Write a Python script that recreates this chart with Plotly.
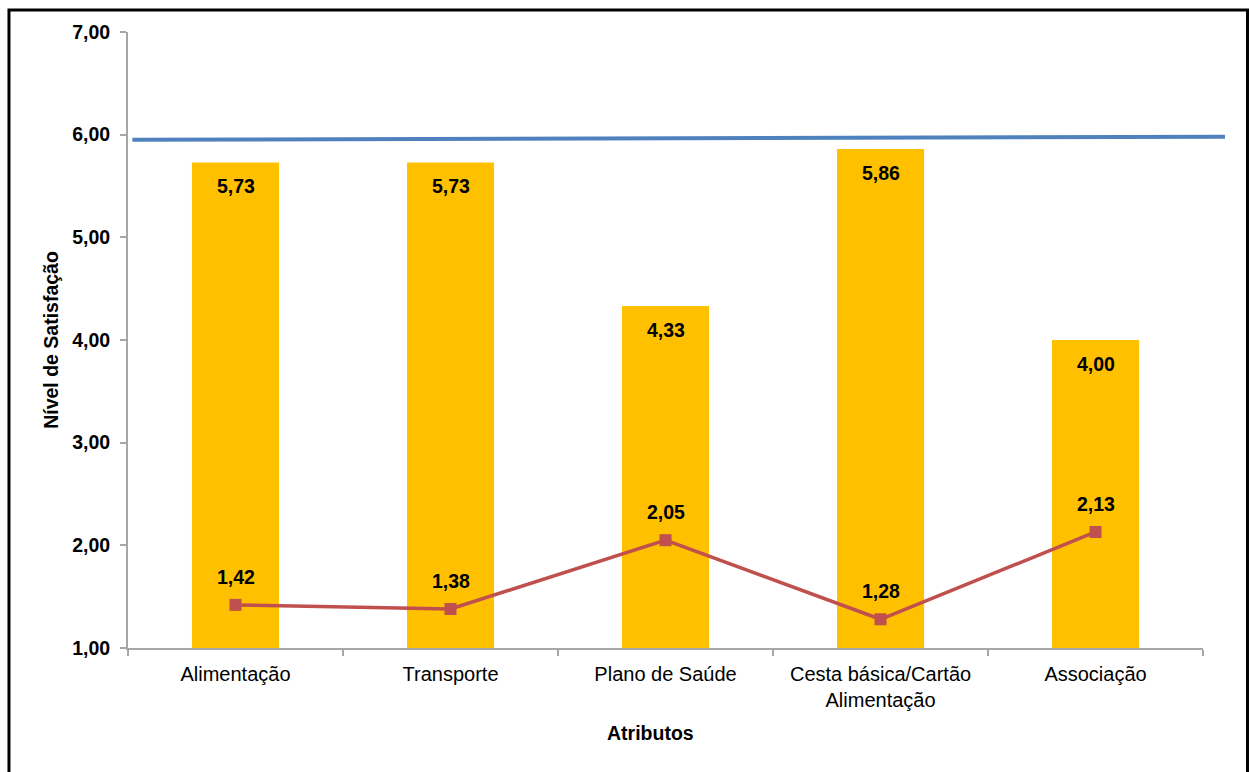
import plotly.graph_objects as go

# Attribute categories and satisfaction scores
categories = ["Alimentação", "Transporte", "Plano de Saúde",
              "Cesta básica/Cartão<br>Alimentação", "Associação"]
satisfaction = [5.73, 5.73, 4.33, 5.86, 4.00]
deviation = [1.42, 1.38, 2.05, 1.28, 2.13]

# Reference level line (drawn on its own full-width axis)
reference_x = [0.004, 1.0]
reference_y = [5.95, 5.98]

y_ticks = [1, 2, 3, 4, 5, 6, 7]
y_tick_labels = ["1,00", "2,00", "3,00", "4,00", "5,00", "6,00", "7,00"]


def fmt(v):
    return f"{v:.2f}".replace(".", ",")


FONT = "Liberation Sans, Arial, sans-serif"
AXIS_GRAY = "#A6A6A6"
BOLD = dict(family=FONT, size=19.5, color="black", weight="bold")

fig = go.Figure()

fig.add_trace(go.Bar(
    x=categories, y=satisfaction, base=0,
    marker=dict(color="#FFC000", line=dict(width=0)),
    width=0.405, xaxis="x", yaxis="y", showlegend=False, hoverinfo="skip",
))

fig.add_trace(go.Scatter(
    x=categories, y=deviation, mode="lines+markers",
    line=dict(color="#C0504D", width=3.5),
    marker=dict(symbol="square", size=12, color="#C0504D"),
    xaxis="x", yaxis="y", showlegend=False, hoverinfo="skip",
))

fig.add_trace(go.Scatter(
    x=reference_x, y=reference_y, mode="lines",
    line=dict(color="#4F81BD", width=4),
    xaxis="x2", yaxis="y", showlegend=False, hoverinfo="skip",
))

annotations = []
for c, v in zip(categories, satisfaction):
    annotations.append(dict(
        x=c, y=v, xref="x", yref="y", text=fmt(v), showarrow=False,
        yshift=-24, font=BOLD,
    ))
for c, v in zip(categories, deviation):
    annotations.append(dict(
        x=c, y=v, xref="x", yref="y", text=fmt(v), showarrow=False,
        yshift=28, font=BOLD,
    ))

# Horizontal axis title, centred on the chart area
annotations.append(dict(
    x=0.476, y=-0.138, xref="paper", yref="paper", text="Atributos",
    showarrow=False, xanchor="center", yanchor="middle", font=BOLD,
))

fig.update_layout(
    width=1249, height=772,
    margin=dict(l=128, r=24, t=32, b=124),
    paper_bgcolor="white", plot_bgcolor="rgba(0,0,0,0)",
    font=dict(family=FONT, size=19, color="black"),
    xaxis=dict(
        domain=[0, 0.98], type="category",
        showline=True, linecolor=AXIS_GRAY, linewidth=2,
        ticks="outside", tickson="boundaries", ticklen=6, tickcolor=AXIS_GRAY, tickwidth=2,
        showgrid=False, zeroline=False,
        tickfont=dict(family=FONT, size=20, color="black"),
        ticklabelstandoff=7,
    ),
    xaxis2=dict(
        domain=[0, 1], anchor="y", range=[0, 1], visible=False,
        showgrid=False, zeroline=False,
    ),
    yaxis=dict(
        range=[1, 7], tickvals=y_ticks, ticktext=y_tick_labels,
        showline=True, linecolor=AXIS_GRAY, linewidth=2,
        ticks="outside", ticklen=6, tickcolor=AXIS_GRAY, tickwidth=2,
        showgrid=False, zeroline=False,
        tickfont=BOLD,
        ticklabelstandoff=6,
        title=dict(text="Nível de Satisfação", standoff=8, font=BOLD),
    ),
    annotations=annotations,
    shapes=[dict(
        type="rect", xref="paper", yref="paper",
        x0=-0.1085, x1=1.0205, y0=-0.25, y1=1.0357,
        line=dict(color="black", width=3), fillcolor="rgba(0,0,0,0)",
        layer="above",
    )],
)

fig.write_html("out.html")
